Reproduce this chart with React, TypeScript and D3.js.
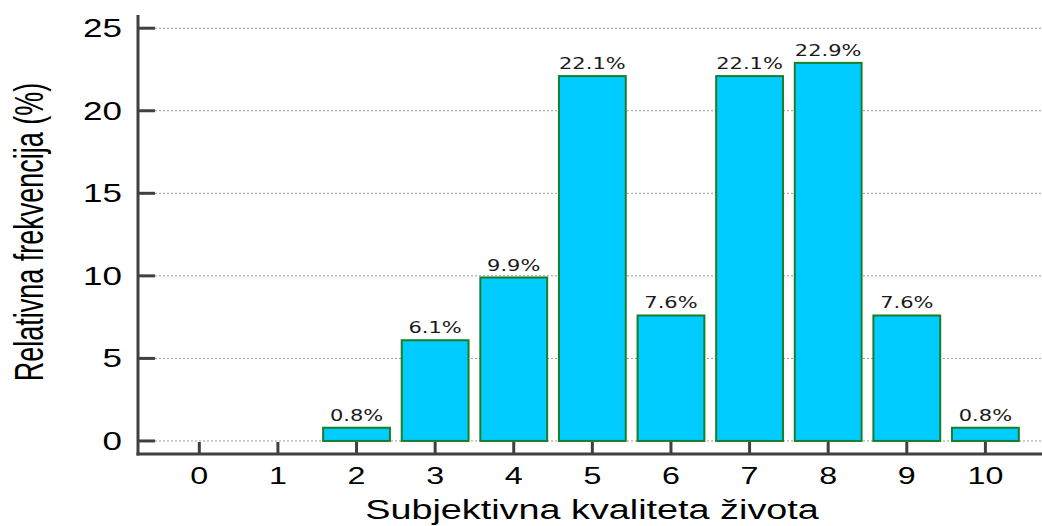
import React, { useRef, useEffect } from 'react';
import * as d3 from 'd3';

// Subjective quality of life scores (0-10) and relative frequency in %
const scores = [0, 1, 2, 3, 4, 5, 6, 7, 8, 9, 10];
const frequencies = [0, 0, 0.8, 6.1, 9.9, 22.1, 7.6, 22.1, 22.9, 7.6, 0.8];
const yTicks = [0, 5, 10, 15, 20, 25];

const WIDTH = 1042;
const HEIGHT = 526;
// the source picture is stretched sideways, so text is too
const SX = 1.4;

const App: React.FC = () => {
  const svgRef = useRef<SVGSVGElement>(null);

  useEffect(() => {
    if (!svgRef.current) return;
    const svg = d3.select(svgRef.current);
    svg.selectAll('*').remove();

    const x = d3.scaleLinear().domain([-0.78, 10.72]).range([138, 1042]);
    const y = d3.scaleLinear().domain([-0.79, 25.8]).range([454, 15]);
    const step = x(1) - x(0);
    const barW = step * 0.85;
    const axisColor = '#404040';

    // Grid lines
    svg.append('g')
      .selectAll('line')
      .data(yTicks)
      .join('line')
      .attr('x1', 155)
      .attr('x2', WIDTH)
      .attr('y1', (d) => y(d))
      .attr('y2', (d) => y(d))
      .attr('stroke', '#9a9a9a')
      .attr('stroke-width', 1)
      .attr('stroke-dasharray', '2,2');

    // Bars
    const bars = scores
      .map((s, i) => ({ s, v: frequencies[i] }))
      .filter((d) => d.v > 0);

    svg.append('g')
      .selectAll('rect')
      .data(bars)
      .join('rect')
      .attr('x', (d) => x(d.s) - barW / 2)
      .attr('y', (d) => y(d.v))
      .attr('width', barW)
      .attr('height', (d) => y(0) - y(d.v))
      .attr('fill', '#00CCFF')
      .attr('stroke', '#187f28')
      .attr('stroke-width', 2);

    // Bar labels
    svg.append('g')
      .selectAll('text')
      .data(bars)
      .join('text')
      .attr('transform', (d) => `translate(${x(d.s)},${y(d.v) - 7}) scale(${SX},1)`)
      .attr('text-anchor', 'middle')
      .attr('font-family', 'DejaVu Sans')
      .attr('font-size', 15)
      .attr('fill', '#1a1a1a')
      .text((d) => `${d.v.toFixed(1)}%`);

    // Axes
    const axes = svg.append('g').attr('stroke', axisColor).attr('stroke-width', 3);
    axes.append('line').attr('x1', 138).attr('x2', 138).attr('y1', 15).attr('y2', 455.5);
    axes.append('line').attr('x1', 136.5).attr('x2', WIDTH).attr('y1', 454).attr('y2', 454);

    axes.selectAll('.ytick')
      .data(yTicks)
      .join('line')
      .attr('class', 'ytick')
      .attr('x1', 138)
      .attr('x2', 155)
      .attr('y1', (d) => y(d))
      .attr('y2', (d) => y(d));

    axes.selectAll('.xtick')
      .data(scores)
      .join('line')
      .attr('class', 'xtick')
      .attr('x1', (d) => x(d))
      .attr('x2', (d) => x(d))
      .attr('y1', 454)
      .attr('y2', 442);

    // Tick labels
    svg.append('g')
      .selectAll('text')
      .data(yTicks)
      .join('text')
      .attr('transform', (d) => `translate(122,${y(d) + 9}) scale(${SX},1)`)
      .attr('text-anchor', 'end')
      .attr('font-family', 'Liberation Sans')
      .attr('font-size', 25)
      .attr('fill', '#000')
      .text((d) => d);

    svg.append('g')
      .selectAll('text')
      .data(scores)
      .join('text')
      .attr('transform', (d) => `translate(${x(d)},484) scale(${SX},1)`)
      .attr('text-anchor', 'middle')
      .attr('font-family', 'Liberation Sans')
      .attr('font-size', 23)
      .attr('fill', '#000')
      .text((d) => d);

    // Axis titles
    svg.append('text')
      .attr('transform', `translate(592,519) scale(${SX},1)`)
      .attr('text-anchor', 'middle')
      .attr('font-family', 'Liberation Sans')
      .attr('font-size', 27)
      .attr('fill', '#000')
      .text('Subjektivna kvaliteta života');

    svg.append('text')
      .attr('transform', `translate(43,232) scale(1.5,1) rotate(-90)`)
      .attr('text-anchor', 'middle')
      .attr('font-family', 'Liberation Sans')
      .attr('font-size', 27)
      .attr('fill', '#000')
      .text('Relativna frekvencija (%)');
  }, []);

  return (
    <svg
      ref={svgRef}
      width={WIDTH}
      height={HEIGHT}
      style={{ position: 'absolute', left: 0, top: 0, background: '#fff' }}
    />
  );
};

export default App;
